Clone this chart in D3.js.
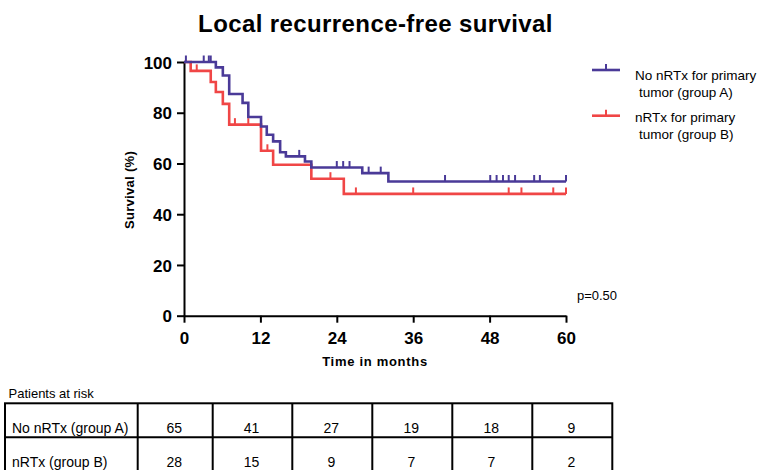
<!DOCTYPE html>
<html><head><meta charset="utf-8">
<script src="https://cdn.jsdelivr.net/npm/d3@7"></script>
<style>
html,body{margin:0;padding:0;background:#fff;}
svg{display:block;font-family:"Liberation Sans",Arial,sans-serif;}
</style></head>
<body><svg id="c" width="758" height="470"></svg>
<script>
// ---- data ----
const title = "Local recurrence-free survival";
const xTicks = [0, 12, 24, 36, 48, 60];
const yTicks = [0, 20, 40, 60, 80, 100];
const legendLinesA = ["No nRTx for primary", "tumor (group A)"];
const legendLinesB = ["nRTx for primary", "tumor (group B)"];
// Kaplan-Meier step points (month, survival %)
const timesA = [0, 5.0, 6.1, 7.1, 9.2, 10.1, 12.1, 13.0, 14.0, 15.1, 16.0, 19.0, 20.0, 28.0, 32.1, 60];
const survA  = [100, 97.9, 94.7, 87.4, 83.9, 78.3, 74.6, 71.3, 68.7, 64.4, 62.8, 60.8, 58.4, 56.2, 52.9, 52.9];
const timesB = [0, 1.05, 4.2, 5.0, 6.1, 7.1, 12.1, 14.0, 20.0, 25.1, 60];
const survB  = [100, 96.5, 92.1, 88.2, 83.5, 75.3, 65.0, 59.5, 54.0, 48.0, 48.0];
// censored observations (months)
const censorA = [0.3, 3.1, 3.9, 4.2, 18.1, 24.0, 25.0, 26.0, 29.0, 30.9, 41.0, 48.1, 49.1, 50.1, 51.0, 52.0, 55.0, 55.9, 60];
const censorB = [2.0, 8.0, 10.1, 13.1, 23.0, 27.0, 36.0, 51.0, 53.0, 58.0, 60];
const pValue = "p=0.50";
const riskHeader = "Patients at risk";
const riskRows = ["No nRTx (group A)", "nRTx (group B)"];
const riskA = [65, 41, 27, 19, 18, 9];
const riskB = [28, 15, 9, 7, 7, 2];

// ---- drawing ----
const colA = "#4a3a98", colB = "#f04646";
const svg = d3.select("#c");
const x = d3.scaleLinear().domain([0, 60]).range([184, 566]);
const y = d3.scaleLinear().domain([0, 100]).range([315.7, 62]);

svg.append("text").attr("x", 375.5).attr("y", 31.5).attr("text-anchor", "middle")
  .attr("font-size", 24).attr("font-weight", "bold").attr("letter-spacing", 0.4).text(title);

// axes
const yAxis = svg.append("g").attr("transform", `translate(${x(0)},0)`)
  .call(d3.axisLeft(y).tickValues(yTicks).tickSize(7).tickSizeOuter(0).tickPadding(5));
const xAxis = svg.append("g").attr("transform", `translate(0,${y(0)})`)
  .call(d3.axisBottom(x).tickValues(xTicks).tickSize(7).tickSizeOuter(0));
[yAxis, xAxis].forEach(g => {
  g.select(".domain").attr("stroke", "#000").attr("stroke-width", 2);
  g.selectAll(".tick line").attr("stroke", "#000").attr("stroke-width", 2);
  g.selectAll(".tick text").attr("fill", "#000").attr("font-size", 17).attr("font-weight", "bold")
    .attr("font-family", "Liberation Sans, Arial, sans-serif");
});
yAxis.selectAll(".tick text").attr("dy", "0.36em");
xAxis.selectAll(".tick text").attr("dy", null).attr("y", 28.5);

svg.append("text").attr("transform", `translate(134,190) rotate(-90)`).attr("text-anchor", "middle")
  .attr("font-size", 13).attr("font-weight", "bold").attr("letter-spacing", 0.3).text("Survival (%)");
svg.append("text").attr("x", 375).attr("y", 365.5).attr("text-anchor", "middle")
  .attr("font-size", 13).attr("font-weight", "bold").attr("letter-spacing", 0.7).text("Time in months");

// curves
const line = d3.line().x(d => x(d[0])).y(d => y(d[1])).curve(d3.curveStepAfter);
function survAt(times, surv, t) {
  let v = surv[0];
  for (let i = 0; i < times.length; i++) if (times[i] <= t) v = surv[i];
  return v;
}
function drawGroup(times, surv, censor, col) {
  const pts = times.map((t, i) => [t, surv[i]]);
  svg.append("path").datum(pts).attr("d", line).attr("fill", "none")
    .attr("stroke", col).attr("stroke-width", 2.6);
  svg.append("g").selectAll("line").data(censor).join("line")
    .attr("x1", d => x(d)).attr("x2", d => x(d))
    .attr("y1", d => y(survAt(times, surv, d)))
    .attr("y2", d => y(survAt(times, surv, d)) - 6.5)
    .attr("stroke", col).attr("stroke-width", 2);
}
drawGroup(timesB, survB, censorB, colB);
drawGroup(timesA, survA, censorA, colA);

svg.append("text").attr("x", 597).attr("y", 299.5).attr("text-anchor", "middle")
  .attr("font-size", 13).text(pValue);

// legend
const legend = [[legendLinesA, colA, 70, 80, 97], [legendLinesB, colB, 115.7, 122, 139]];
legend.forEach(([lines, col, ly, t1, t2]) => {
  svg.append("line").attr("x1", 592).attr("x2", 620).attr("y1", ly).attr("y2", ly)
    .attr("stroke", col).attr("stroke-width", 2.6);
  svg.append("line").attr("x1", 606).attr("x2", 606).attr("y1", ly).attr("y2", ly - 6)
    .attr("stroke", col).attr("stroke-width", 2);
  svg.append("text").attr("x", 635).attr("y", t1).attr("font-size", 13.5).text(lines[0]);
  svg.append("text").attr("x", 639).attr("y", t2).attr("font-size", 13.5).text(lines[1]);
});

// risk table
svg.append("text").attr("x", 8.5).attr("y", 397.5).attr("font-size", 13).text(riskHeader);
const colEdges = [5, 137.7, 212.7, 292.3, 372.3, 452.3, 532.3, 612.3];
const rowEdges = [403.3, 437.3, 471.3];
const tbl = svg.append("g");
tbl.append("rect").attr("x", colEdges[0]).attr("y", rowEdges[0])
  .attr("width", colEdges[7] - colEdges[0]).attr("height", rowEdges[2] - rowEdges[0])
  .attr("fill", "none").attr("stroke", "#000").attr("stroke-width", 2);
colEdges.slice(1, -1).forEach(cx => tbl.append("line").attr("x1", cx).attr("x2", cx)
  .attr("y1", rowEdges[0]).attr("y2", rowEdges[2]).attr("stroke", "#000").attr("stroke-width", 2));
tbl.append("line").attr("x1", colEdges[0]).attr("x2", colEdges[7]).attr("y1", rowEdges[1]).attr("y2", rowEdges[1])
  .attr("stroke", "#000").attr("stroke-width", 2);
[riskA, riskB].forEach((vals, r) => {
  const by = rowEdges[r] + 29.5;
  tbl.append("text").attr("x", 12).attr("y", by).attr("font-size", 14).text(riskRows[r]);
  vals.forEach((v, i) => tbl.append("text")
    .attr("x", (colEdges[i + 1] + colEdges[i + 2]) / 2 - 1).attr("y", by)
    .attr("text-anchor", "middle").attr("font-size", 14).text(v));
});
</script></body></html>
